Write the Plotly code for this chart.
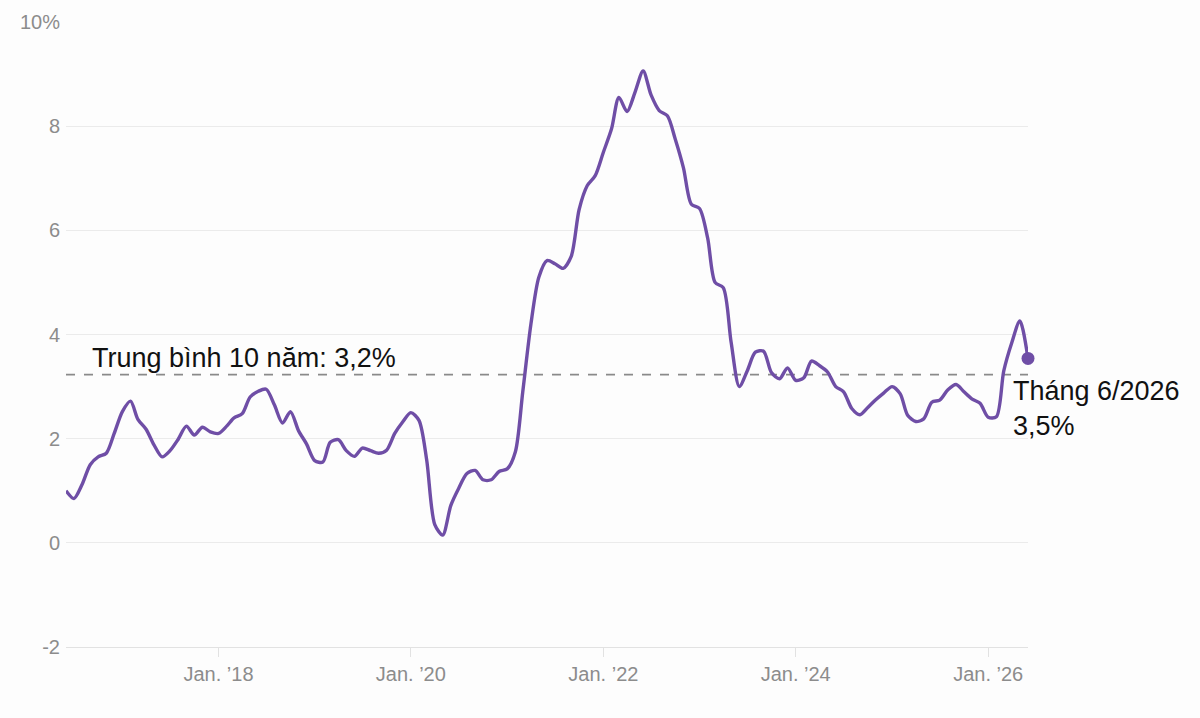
import pandas as pd
import plotly.graph_objects as go

# Monthly values, Jun 2016 .. Jun 2026 (%)
start_month = "2016-06-01"
values = [
    1.00, 0.85, 1.12, 1.50, 1.65, 1.72, 2.10, 2.52, 2.72, 2.37,   # Jun16-Mar17
    2.18, 1.88, 1.65, 1.77, 1.99, 2.24, 2.07, 2.22, 2.13, 2.10,   # Apr17-Jan18
    2.24, 2.40, 2.48, 2.80, 2.91, 2.95, 2.65, 2.30, 2.52, 2.15,   # Feb18-Nov18
    1.90, 1.58, 1.55, 1.93, 1.98, 1.77, 1.66, 1.82, 1.77, 1.72,   # Dec18-Sep19
    1.78, 2.10, 2.32, 2.50, 2.35, 1.60, 0.35, 0.15, 0.72, 1.05,   # Oct19-Jul20
    1.33, 1.39, 1.21, 1.21, 1.37, 1.42, 1.75, 2.90, 4.20, 5.10,   # Aug20-May21
    5.42, 5.36, 5.27, 5.50, 6.40, 6.86, 7.05, 7.50, 7.95, 8.55,   # Jun21-Mar22
    8.28, 8.65, 9.06, 8.60, 8.30, 8.20, 7.75, 7.20, 6.50, 6.42,   # Apr22-Jan23
    5.85, 5.00, 4.90, 3.85, 3.00, 3.30, 3.66, 3.68, 3.27, 3.15,   # Feb23-Nov23
    3.36, 3.12, 3.17, 3.49, 3.40, 3.28, 3.00, 2.90, 2.58, 2.46,   # Dec23-Sep24
    2.60, 2.75, 2.88, 3.00, 2.86, 2.45, 2.33, 2.38, 2.70, 2.74,   # Oct24-Jul25
    2.94, 3.04, 2.90, 2.76, 2.68, 2.41, 2.42, 3.30, 3.85, 4.26,   # Aug25-May26
    3.54,                                                          # Jun26
]
dates = pd.date_range(start_month, periods=len(values), freq="MS")

avg_10y = 3.23
avg_label = "Trung bình 10 năm: 3,2%"
last_label = "Tháng 6/2026<br>3,5%"

x_tick_vals = ["2018-01-01", "2020-01-01", "2022-01-01", "2024-01-01", "2026-01-01"]
x_tick_text = ["Jan. ’18", "Jan. ’20", "Jan. ’22", "Jan. ’24", "Jan. ’26"]
y_tick_vals = [-2, 0, 2, 4, 6, 8, 10]
y_tick_text = ["-2", "0", "2", "4", "6", "8", "10%"]

purple = "#6f4ea6"
bg = "#fdfdfd"
font_family = "Liberation Sans, Arial, Helvetica, sans-serif"

fig = go.Figure()

# average dashed line
fig.add_trace(go.Scatter(
    x=[dates[0], dates[-1]], y=[avg_10y, avg_10y], mode="lines",
    line=dict(color="#8a8a8a", width=1.6, dash="dash"),
    hoverinfo="skip", showlegend=False,
))

fig.add_trace(go.Scatter(
    x=dates, y=values, mode="lines",
    line=dict(color=purple, width=3.4, shape="spline", smoothing=0.8),
    showlegend=False, cliponaxis=False,
))

fig.add_trace(go.Scatter(
    x=[dates[-1]], y=[values[-1]], mode="markers",
    marker=dict(color=purple, size=13),
    showlegend=False, cliponaxis=False,
))

fig.add_annotation(
    x=dates[3], y=avg_10y, xref="x", yref="y", text=avg_label,
    showarrow=False, xanchor="left", yanchor="bottom", yshift=0,
    font=dict(size=27, color="#111111", family=font_family),
)
fig.add_annotation(
    x=dates[-1], y=avg_10y, xref="x", yref="y", text=last_label,
    showarrow=False, xanchor="left", yanchor="top", align="left",
    xshift=-17, yshift=1,
    font=dict(size=27, color="#111111", family=font_family),
)

fig.update_layout(
    width=1200, height=718,
    margin=dict(l=66, r=172, t=22, b=71),
    paper_bgcolor=bg, plot_bgcolor=bg,
    font=dict(family=font_family),
    xaxis=dict(
        range=[dates[0], dates[-1]],
        tickmode="array", tickvals=x_tick_vals, ticktext=x_tick_text,
        showgrid=False, zeroline=False,
        showline=True, linecolor="#e2e2e2", linewidth=1,
        ticks="outside", ticklen=9, tickcolor="#e2e2e2",
        tickfont=dict(size=20, color="#8c8c8c"),
    ),
    yaxis=dict(
        range=[-2, 10],
        tickmode="array", tickvals=y_tick_vals, ticktext=y_tick_text,
        showgrid=True, gridcolor="#ebebeb", gridwidth=1.2,
        zeroline=False, showline=False,
        ticks="", ticklabelstandoff=5,
        tickfont=dict(size=20, color="#8c8c8c"),
    ),
)

fig.write_html("out.html")
